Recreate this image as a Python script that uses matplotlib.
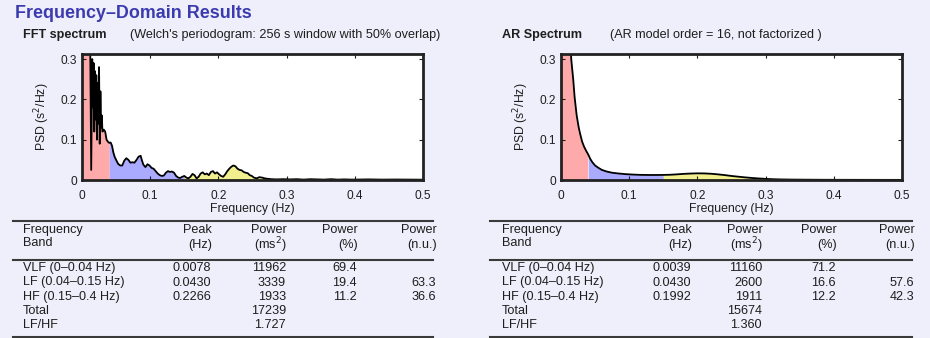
import matplotlib
matplotlib.use('Agg')
import matplotlib.pyplot as plt
from matplotlib.lines import Line2D
import numpy as np

plt.rcParams['font.family'] = ['Liberation Sans', 'DejaVu Sans']

# Welch periodogram (FFT) spectrum
fft_freq = [0.000, 0.002, 0.004, 0.006, 0.008, 0.010, 0.012, 0.0135, 0.015, 0.016,
            0.017, 0.018, 0.019, 0.020, 0.021, 0.022, 0.023, 0.024, 0.025, 0.026,
            0.027, 0.028, 0.029, 0.030, 0.032, 0.034, 0.036, 0.038, 0.040,
            0.042, 0.044, 0.046, 0.048, 0.050, 0.053, 0.056, 0.059, 0.062, 0.065,
            0.068, 0.071, 0.074, 0.077, 0.080, 0.083, 0.086, 0.088, 0.090, 0.093,
            0.096, 0.099, 0.102, 0.105, 0.108, 0.111, 0.114, 0.117, 0.120, 0.123,
            0.126, 0.129, 0.132, 0.135, 0.138, 0.141, 0.144, 0.147, 0.150,
            0.153, 0.156, 0.159, 0.162, 0.165, 0.168, 0.171, 0.174, 0.177, 0.180,
            0.183, 0.186, 0.189, 0.192, 0.195, 0.198, 0.201, 0.204, 0.207, 0.210,
            0.213, 0.216, 0.219, 0.222, 0.225, 0.228, 0.231, 0.234, 0.237, 0.240,
            0.243, 0.246, 0.249, 0.252, 0.256, 0.260, 0.264, 0.268, 0.272, 0.278,
            0.285, 0.295, 0.305, 0.315, 0.325, 0.335, 0.345, 0.355, 0.365, 0.375,
            0.385, 0.395, 0.400, 0.420, 0.440, 0.460, 0.480, 0.500]
fft_psd = [0.45, 0.62, 0.70, 0.66, 0.55, 0.42, 0.34, 0.025, 0.30, 0.18,
           0.29, 0.12, 0.27, 0.15, 0.26, 0.10, 0.24, 0.14, 0.28, 0.09,
           0.22, 0.13, 0.16, 0.12, 0.125, 0.12, 0.10, 0.095, 0.092,
           0.093, 0.085, 0.068, 0.057, 0.050, 0.040, 0.036, 0.036, 0.048, 0.054,
           0.050, 0.043, 0.044, 0.043, 0.050, 0.058, 0.060, 0.048, 0.038, 0.032,
           0.039, 0.036, 0.030, 0.028, 0.022, 0.016, 0.012, 0.010, 0.011, 0.018,
           0.022, 0.020, 0.021, 0.018, 0.010, 0.006, 0.005, 0.008, 0.010,
           0.006, 0.004, 0.008, 0.015, 0.012, 0.004, 0.008, 0.016, 0.019, 0.014,
           0.016, 0.012, 0.020, 0.022, 0.016, 0.019, 0.014, 0.010, 0.008, 0.014,
           0.022, 0.028, 0.033, 0.036, 0.034, 0.028, 0.025, 0.024, 0.020, 0.018,
           0.017, 0.012, 0.010, 0.006, 0.004, 0.007, 0.006, 0.004, 0.003, 0.002,
           0.0015, 0.002, 0.0015, 0.002, 0.001, 0.002, 0.0015, 0.001, 0.002, 0.001,
           0.0015, 0.001, 0.001, 0.0015, 0.001, 0.0012, 0.001, 0.0008]

# AR model spectrum
ar_freq = [0.000, 0.005, 0.010, 0.013, 0.015, 0.018, 0.020, 0.023, 0.026, 0.028,
           0.031, 0.034, 0.037, 0.040, 0.043, 0.046, 0.050, 0.055, 0.060, 0.067,
           0.075, 0.085, 0.095, 0.105, 0.115, 0.125, 0.135, 0.145, 0.150, 0.160,
           0.170, 0.180, 0.190, 0.200, 0.210, 0.220, 0.230, 0.240, 0.250, 0.260,
           0.270, 0.280, 0.290, 0.300, 0.310, 0.320, 0.340, 0.360, 0.380, 0.400,
           0.450, 0.500]
ar_psd = [0.95, 0.80, 0.55, 0.38, 0.30, 0.248, 0.205, 0.160, 0.130, 0.115,
          0.095, 0.082, 0.072, 0.063, 0.052, 0.044, 0.036, 0.030, 0.025, 0.021,
          0.018, 0.016, 0.0145, 0.0135, 0.0128, 0.0125, 0.0124, 0.0125, 0.0126, 0.013,
          0.0140, 0.0152, 0.0160, 0.0165, 0.0163, 0.0155, 0.0140, 0.0122, 0.0100, 0.0082,
          0.0065, 0.0050, 0.0038, 0.0028, 0.0020, 0.0015, 0.0010, 0.0008, 0.0006, 0.0005,
          0.0004, 0.0003]

# band limits (Hz) and fill colours
bands = [(0.0, 0.04), (0.04, 0.15), (0.15, 0.4)]
band_colors = ['#ffaaaa', '#aaaaff', '#f2f08e']

# results tables
band_labels = ['VLF (0\u20130.04 Hz)', 'LF (0.04\u20130.15 Hz)', 'HF (0.15\u20130.4 Hz)', 'Total', 'LF/HF']
fft_peak = ['0.0078', '0.0430', '0.2266', '', '']
fft_power = ['11962', '3339', '1933', '17239', '1.727']
fft_pct = ['69.4', '19.4', '11.2', '', '']
fft_nu = ['', '63.3', '36.6', '', '']
ar_peak = ['0.0039', '0.0430', '0.1992', '', '']
ar_power = ['11160', '2600', '1911', '15674', '1.360']
ar_pct = ['71.2', '16.6', '12.2', '', '']
ar_nu = ['', '57.6', '42.3', '', '']

W, H = 930, 338
BG = '#efeffb'
TXT = '#1e1e1e'
FS = 9.1


def fx(x):
    return x / W


def fy(y):
    return 1 - y / H


def spectrum(fig, left, freq, psd):
    ax = fig.add_axes([fx(left), fy(180), 341 / W, 126 / H])
    f = np.array(freq)
    p = np.array(psd)
    for (lo, hi), c in zip(bands, band_colors):
        m = (f >= lo) & (f <= hi)
        ax.fill_between(f[m], 0, p[m], color=c, lw=0)
    ax.plot(f, p, color='k', lw=1.3)
    ax.set_xlim(0, 0.5)
    ax.set_ylim(0, 0.3125)
    ax.set_xticks([0, 0.1, 0.2, 0.3, 0.4, 0.5])
    ax.set_xticklabels(['0', '0.1', '0.2', '0.3', '0.4', '0.5'])
    ax.set_yticks([0, 0.1, 0.2, 0.3])
    ax.set_yticklabels(['0', '0.1', '0.2', '0.3'])
    ax.tick_params(direction='in', top=True, right=True, length=3, width=0.8,
                   labelsize=8.6, colors=TXT)
    ax.tick_params(axis='x', pad=7)
    ax.tick_params(axis='y', pad=3.5)
    for s in ax.spines.values():
        s.set_linewidth(2.0)
        s.set_color('#222222')
    ax.set_xlabel('Frequency (Hz)', fontsize=8.8, color=TXT)
    ax.set_ylabel('PSD (s$^2$/Hz)', fontsize=8.8, color=TXT)
    ax.xaxis.set_label_coords(0.5, (180 - 209) / 126)
    ax.yaxis.set_label_coords(-40 / 341, 0.5)
    ax.xaxis.label.set_va('center')
    ax.yaxis.label.set_va('center')
    return ax


def hline(fig, x0, x1, y, lw=1.5):
    fig.add_artist(Line2D([fx(x0), fx(x1)], [fy(y), fy(y)], lw=lw, color='#3a3a3a'))


def table(fig, x0, x1, xlab, cols, values):
    hline(fig, x0, x1, 221)
    hline(fig, x0, x1, 260)
    hline(fig, x0, x1, 337)
    fig.text(fx(xlab), fy(230), 'Frequency', fontsize=FS, color=TXT, va='center')
    fig.text(fx(xlab), fy(243), 'Band', fontsize=FS, color=TXT, va='center')
    heads = [('Peak', '(Hz)'), ('Power', '(ms$^2$)'), ('Power', '(%)'), ('Power', '(n.u.)')]
    for xc, (h1, h2) in zip(cols, heads):
        fig.text(fx(xc), fy(230), h1, fontsize=FS, color=TXT, va='center', ha='right')
        fig.text(fx(xc), fy(245), h2, fontsize=FS, color=TXT, va='center', ha='right')
    row_y = [268, 282.5, 297, 311.5, 325]
    for i, lab in enumerate(band_labels):
        fig.text(fx(xlab), fy(row_y[i]), lab, fontsize=FS, color=TXT, va='center')
        for xc, col in zip(cols, values):
            if col[i]:
                fig.text(fx(xc - 1), fy(row_y[i]), col[i], fontsize=FS, color=TXT,
                         va='center', ha='right')


fig = plt.figure(figsize=(W / 100, H / 100), dpi=100, facecolor=BG)

fig.text(fx(15), fy(13), 'Frequency\u2013Domain Results', fontsize=12.9,
         fontweight='bold', color='#3b3bb0', va='center')
fig.text(fx(23), fy(35), 'FFT spectrum', fontsize=FS, fontweight='bold', color=TXT, va='center')
fig.text(fx(130), fy(35), "(Welch's periodogram: 256 s window with 50% overlap)",
         fontsize=FS, color=TXT, va='center')
fig.text(fx(502), fy(35), 'AR Spectrum', fontsize=FS, fontweight='bold', color=TXT, va='center')
fig.text(fx(610), fy(35), '(AR model order = 16, not factorized )',
         fontsize=FS, color=TXT, va='center')

spectrum(fig, 82, fft_freq, fft_psd)
spectrum(fig, 561, ar_freq, ar_psd)

table(fig, 13, 433, 23, [212, 287, 358, 437], [fft_peak, fft_power, fft_pct, fft_nu])
table(fig, 490, 912, 502, [692, 763, 837, 915], [ar_peak, ar_power, ar_pct, ar_nu])

fig.savefig('out.png', dpi=100, facecolor=BG)
